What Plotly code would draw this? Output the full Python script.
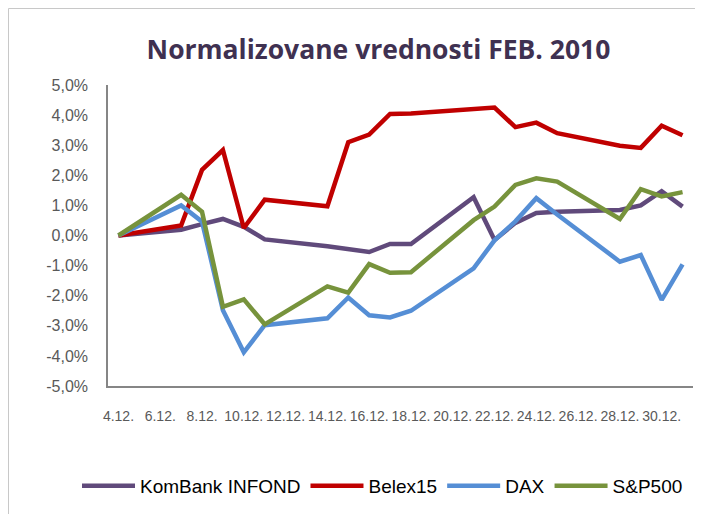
import plotly.graph_objects as go

dates = ["2009-12-04", "2009-12-07", "2009-12-08", "2009-12-09", "2009-12-10",
         "2009-12-11", "2009-12-14", "2009-12-15", "2009-12-16", "2009-12-17",
         "2009-12-18", "2009-12-21", "2009-12-22", "2009-12-23", "2009-12-24",
         "2009-12-25", "2009-12-28", "2009-12-29", "2009-12-30", "2009-12-31"]

kombank_infond = [0.00, 0.19, 0.38, 0.55, 0.29, -0.13, -0.36, -0.46, -0.55, -0.28,
                  -0.28, 1.27, -0.15, 0.42, 0.75, 0.79, 0.85, 1.00, 1.47, 0.96]
belex15 = [0.00, 0.33, 2.18, 2.84, 0.25, 1.19, 0.97, 3.10, 3.35, 4.04,
           4.05, 4.21, 4.25, 3.60, 3.75, 3.40, 2.98, 2.91, 3.65, 3.33]
dax = [0.00, 1.00, 0.46, -2.48, -3.88, -2.98, -2.75, -2.06, -2.65, -2.72,
       -2.50, -1.09, -0.16, 0.47, 1.24, 0.70, -0.87, -0.65, -2.14, -0.96]
sp500 = [0.00, 1.35, 0.79, -2.37, -2.12, -2.95, -1.69, -1.90, -0.95, -1.24,
         -1.22, 0.51, 0.96, 1.68, 1.90, 1.79, 0.55, 1.54, 1.30, 1.44]

series_names = ["KomBank INFOND", "Belex15", "DAX", "S&P500"]
series_values = [kombank_infond, belex15, dax, sp500]
series_colors = ["#604A7B", "#C00000", "#558ED5", "#77933C"]

y_ticks = [-5, -4, -3, -2, -1, 0, 1, 2, 3, 4, 5]
y_tick_labels = [f"{v:.1f}%".replace(".", ",") for v in y_ticks]

fig = go.Figure()
for name, vals, col in zip(series_names, series_values, series_colors):
    fig.add_trace(go.Scatter(x=dates, y=vals, name=name, mode="lines",
                             line=dict(color=col, width=4.5)))

# the page places the figure 8px in from the top-left corner
W, H = 703, 514
L, R, T, B = 100, 18, 77, 136
pw, ph = W - L - R, H - T - B

def px_x(p):
    return (p - L) / pw

def px_y(p):
    return (H - B - p) / ph

fig.update_layout(
    width=W, height=H,
    margin=dict(l=L, r=R, t=T, b=B, pad=0),
    paper_bgcolor="white", plot_bgcolor="white",
    separators=",.",
    title=dict(text="<b>Normalizovane vrednosti FEB. 2010</b>",
               font=dict(family="Open Sans, Liberation Sans, Arial", size=26.5, color="#3F3151"),
               x=370.5 / W, xanchor="center", xref="container",
               y=1 - 42 / H, yanchor="middle", yref="container"),
    xaxis=dict(type="date", range=["2009-12-03 12:00", "2009-12-31 12:00"],
               tick0="2009-12-04", dtick=2 * 86400000, tickformat="%-d.%m.",
               showgrid=False, zeroline=False, showline=True, linecolor="#868686",
               linewidth=1.5, ticks="outside", ticklen=16, tickcolor="rgba(0,0,0,0)",
               tickfont=dict(family="Liberation Sans Narrow, Liberation Sans, Arial",
                             size=14, color="#595959")),
    yaxis=dict(range=[-5, 5], tickvals=y_ticks, ticktext=y_tick_labels,
               showgrid=False, zeroline=False, showline=True, linecolor="#868686",
               linewidth=1.5, ticks="outside", ticklen=15, tickcolor="rgba(0,0,0,0)",
               tickfont=dict(family="Liberation Sans, Arial", size=16, color="#595959")),
    legend=dict(orientation="h", x=px_x(69), xanchor="left", y=px_y(478), yanchor="middle",
                font=dict(family="Liberation Sans, Arial", size=19, color="#000000"),
                itemwidth=53, bgcolor="rgba(0,0,0,0)"),
    shapes=[dict(type="rect", xref="paper", yref="paper",
                 x0=px_x(0.5), x1=px_x(730), y0=px_y(540), y1=px_y(0.5),
                 line=dict(color="#C8C8C8", width=1), fillcolor="rgba(0,0,0,0)",
                 layer="below")],
)

fig.write_html("out.html")
